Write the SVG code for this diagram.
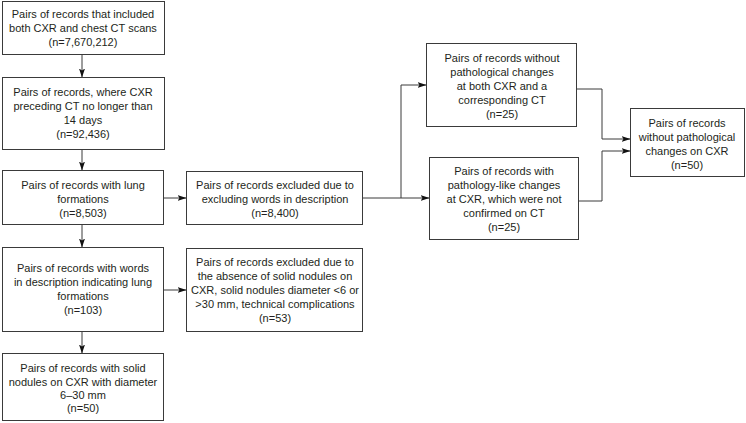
<svg xmlns="http://www.w3.org/2000/svg" width="746" height="423" viewBox="0 0 746 423">
<style>
.box{fill:#fff;stroke:#3a3a3a;stroke-width:1}
.t{font-family:"Liberation Sans",Arial,sans-serif;font-size:11px;fill:#231f20;text-anchor:middle}
.c{fill:none;stroke:#3a3a3a;stroke-width:1}
</style>
<defs>
<marker id="ah" markerWidth="9" markerHeight="7" refX="8.5" refY="3.5" orient="auto" markerUnits="userSpaceOnUse">
<path d="M0,0.5 L9,3.5 L0,6.5 L2,3.5 z" fill="#111"/>
</marker>
</defs>
<rect width="746" height="423" fill="#fff"/>
<g id="connectors">
<line class="c" x1="82" y1="55" x2="82" y2="77" marker-end="url(#ah)"/>
<line class="c" x1="82" y1="150" x2="82" y2="170" marker-end="url(#ah)"/>
<line class="c" x1="82" y1="225" x2="82" y2="247" marker-end="url(#ah)"/>
<line class="c" x1="82" y1="332" x2="82" y2="353" marker-end="url(#ah)"/>
<line class="c" x1="163" y1="198" x2="186" y2="198" marker-end="url(#ah)"/>
<line class="c" x1="163" y1="290" x2="186" y2="290" marker-end="url(#ah)"/>
<line class="c" x1="363" y1="198" x2="429" y2="198" marker-end="url(#ah)"/>
<polyline class="c" points="401,198 401,85 426,85" marker-end="url(#ah)"/>
<polyline class="c" points="577,89 602,89 602,139 630,139" marker-end="url(#ah)"/>
<polyline class="c" points="579,201 602,201 602,151 630,151" marker-end="url(#ah)"/>
</g>
<g id="n1">
<rect class="box" x="2.5" y="1.5" width="162" height="53"/>
<text class="t" x="83" y="18">Pairs of records that included</text>
<text class="t" x="83" y="32">both CXR and chest CT scans</text>
<text class="t" x="83" y="46">(n=7,670,212)</text>
</g>
<g id="n2">
<rect class="box" x="2.5" y="77.5" width="162" height="72"/>
<text class="t" x="83" y="96">Pairs of records, where CXR</text>
<text class="t" x="83" y="110">preceding CT no longer than</text>
<text class="t" x="83" y="124">14 days</text>
<text class="t" x="83" y="138">(n=92,436)</text>
</g>
<g id="n3">
<rect class="box" x="2.5" y="170.5" width="161" height="54"/>
<text class="t" x="83" y="189">Pairs of records with lung</text>
<text class="t" x="83" y="203">formations</text>
<text class="t" x="83" y="217">(n=8,503)</text>
</g>
<g id="n4">
<rect class="box" x="2.5" y="247.5" width="161" height="84"/>
<text class="t" x="83" y="272">Pairs of records with words</text>
<text class="t" x="83" y="286">in description indicating lung</text>
<text class="t" x="83" y="300">formations</text>
<text class="t" x="83" y="314">(n=103)</text>
</g>
<g id="n5">
<rect class="box" x="2.5" y="353.5" width="161" height="67"/>
<text class="t" x="83" y="372">Pairs of records with solid</text>
<text class="t" x="83" y="386">nodules on CXR with diameter</text>
<text class="t" x="83" y="399">6–30 mm</text>
<text class="t" x="83" y="412">(n=50)</text>
</g>
<g id="n6">
<rect class="box" x="186.5" y="171.5" width="176" height="53"/>
<text class="t" x="275" y="189">Pairs of records excluded due to</text>
<text class="t" x="275" y="203">excluding words in description</text>
<text class="t" x="275" y="217">(n=8,400)</text>
</g>
<g id="n7">
<rect class="box" x="186.5" y="248.5" width="176" height="83"/>
<text class="t" x="275" y="266">Pairs of records excluded due to</text>
<text class="t" x="275" y="280">the absence of solid nodules on</text>
<text class="t" x="275" y="294">CXR, solid nodules diameter &lt;6 or</text>
<text class="t" x="275" y="308">&gt;30 mm, technical complications</text>
<text class="t" x="275" y="322">(n=53)</text>
</g>
<g id="n8">
<rect class="box" x="426.5" y="43.5" width="150" height="83"/>
<text class="t" x="502" y="62">Pairs of records without</text>
<text class="t" x="502" y="76">pathological changes</text>
<text class="t" x="502" y="90">at both CXR and a</text>
<text class="t" x="502" y="104">corresponding CT</text>
<text class="t" x="502" y="118">(n=25)</text>
</g>
<g id="n9">
<rect class="box" x="429.5" y="157.5" width="149" height="82"/>
<text class="t" x="504" y="175">Pairs of records with</text>
<text class="t" x="504" y="189">pathology-like changes</text>
<text class="t" x="504" y="203">at CXR, which were not</text>
<text class="t" x="504" y="217">confirmed on CT</text>
<text class="t" x="504" y="231">(n=25)</text>
</g>
<g id="n10">
<rect class="box" x="630.5" y="108.5" width="114" height="68"/>
<text class="t" x="687" y="127">Pairs of records</text>
<text class="t" x="687" y="141">without pathological</text>
<text class="t" x="687" y="155">changes on CXR</text>
<text class="t" x="687" y="169">(n=50)</text>
</g>
</svg>
